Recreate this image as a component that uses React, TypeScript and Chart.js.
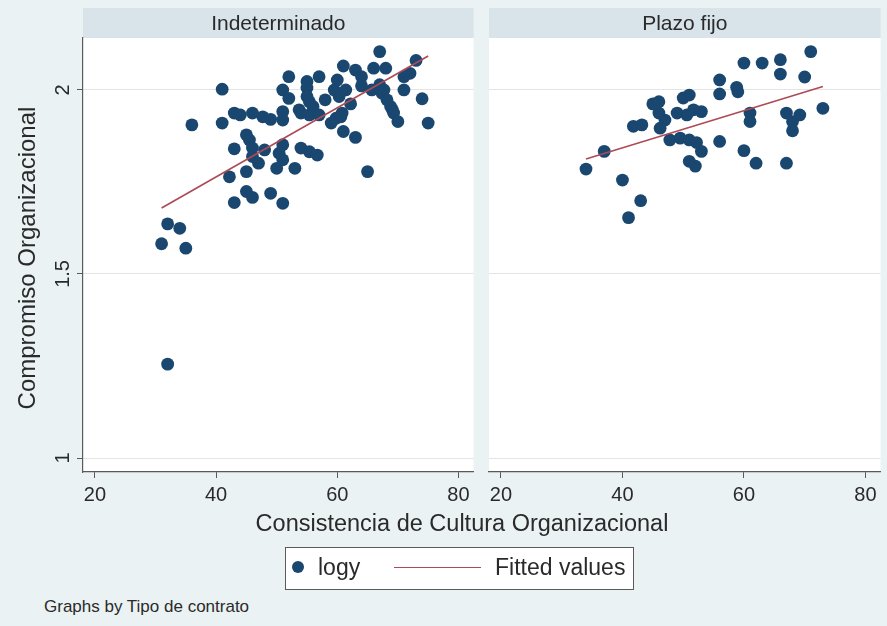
import React, { useEffect, useRef } from 'react';
import { Chart, registerables } from 'chart.js';

Chart.register(...registerables);

// ---------- data ----------
const PANEL_TITLES = ['Indeterminado', 'Plazo fijo'];

const indX = [67, 73, 61, 63, 66, 68, 64, 52, 57, 55, 60, 71, 72,
  41, 51, 55, 59.5, 61.4, 64, 67, 71, 65.7, 67.7,
  52, 58, 55, 60.3, 67.4, 74, 68.2, 62.2, 56, 68.8, 55.4, 53.7, 69.1,
  43, 44, 46, 47.7, 49, 51, 51, 54, 55.4, 57, 60.8, 59.8, 69.3, 60.6,
  59, 36, 41, 70, 75,
  61, 63, 45, 45.5, 46, 43, 48, 51, 50.4, 54, 55.4, 56.7, 46, 51, 47, 50, 53, 45, 42.2, 65,
  45, 46, 49, 43, 51,
  32, 34, 31, 35, 32];
const indY = [2.104, 2.080, 2.065, 2.054, 2.059, 2.059, 2.036, 2.036, 2.036, 2.023, 2.027, 2.036, 2.045,
  2.002, 2.0, 2.005, 2.0, 2.0, 2.011, 2.014, 2.0, 2.0, 2.0,
  1.977, 1.973, 1.982, 1.982, 1.991, 1.976, 1.973, 1.962, 1.955, 1.955, 1.968, 1.946, 1.946,
  1.937, 1.932, 1.937, 1.927, 1.920, 1.941, 1.918, 1.937, 1.932, 1.932, 1.937, 1.923, 1.937, 1.927,
  1.910, 1.905, 1.910, 1.914, 1.910,
  1.887, 1.871, 1.878, 1.864, 1.842, 1.840, 1.837, 1.851, 1.828, 1.842, 1.832, 1.823, 1.819, 1.810, 1.801, 1.787, 1.787, 1.778, 1.764, 1.778,
  1.724, 1.708, 1.719, 1.694, 1.692,
  1.636, 1.624, 1.582, 1.570, 1.255];

const fijoX = [71, 60, 63, 66, 66, 70, 56, 56, 58.8, 59, 73, 67, 69.2, 68, 68, 61, 61, 56, 60, 62, 67,
  45, 46, 46, 47, 46.2, 50, 51, 49, 50.6, 51.7, 53, 41.8, 43.2, 47.8, 49.5, 51, 52.2, 53, 51, 52, 37, 34, 40, 43, 41];
const fijoY = [2.104, 2.073, 2.073, 2.082, 2.043, 2.035, 2.027, 1.989, 2.007, 1.995, 1.950, 1.937, 1.932, 1.914, 1.889, 1.937, 1.914, 1.860, 1.835, 1.801, 1.801,
  1.962, 1.968, 1.937, 1.918, 1.896, 1.978, 1.986, 1.937, 1.932, 1.946, 1.941, 1.901, 1.905, 1.864, 1.869, 1.864, 1.857, 1.833, 1.806, 1.793, 1.833, 1.785, 1.755, 1.699, 1.653];

const indFitX = [31, 75];
const indFitY = [1.679, 2.092];
const fijoFitX = [34, 73];
const fijoFitY = [1.812, 2.009];

const X_TICKS = [20, 40, 60, 80];
const Y_TICKS = [1, 1.5, 2];
const Y_TICK_LABELS = ['1', '1.5', '2'];
const X_MIN = 18.03;
const X_MAX = 82.5;
const Y_MIN = 0.962;
const Y_MAX = 2.141;

const Y_TITLE = 'Compromiso Organizacional';
const X_TITLE = 'Consistencia de Cultura Organizacional';
const LEGEND_POINTS = 'logy';
const LEGEND_LINE = 'Fitted values';
const NOTE = 'Graphs by Tipo de contrato';

// ---------- styles ----------
const FONT = '"Liberation Sans", Arial, Helvetica, sans-serif';
const BG = '#eaf2f3';
const STRIP = '#d8e3ea';
const NAVY = '#1a476f';
const FIT = '#ad4a55';
const AXIS = '#5a5a5a';
const GRID = '#e4e4e4';
const TEXT = '#2a2a2a';
const CANVAS_H = 515;
const AREA_TOP = 38;
const AREA_BOTTOM = 472;
const STRIP_TOP = 8;

type PanelProps = {
  title: string;
  xs: number[];
  ys: number[];
  fx: number[];
  fy: number[];
  showY: boolean;
  left: number;
  width: number;
  yAxisWidth: number;
  padRight: number;
};

function Panel(p: PanelProps) {
  const ref = useRef<HTMLCanvasElement | null>(null);
  useEffect(() => {
    if (!ref.current) return;
    const plugin = {
      id: 'stataPanel',
      beforeDraw(chart: any) {
        const { ctx, chartArea: a } = chart;
        ctx.save();
        ctx.fillStyle = '#ffffff';
        ctx.fillRect(a.left, a.top, a.right - a.left, a.bottom - a.top);
        ctx.fillStyle = STRIP;
        ctx.fillRect(a.left, STRIP_TOP, a.right - a.left, a.top - STRIP_TOP);
        ctx.fillStyle = TEXT;
        ctx.font = `21px ${FONT}`;
        ctx.textAlign = 'center';
        ctx.textBaseline = 'middle';
        ctx.fillText(p.title, (a.left + a.right) / 2, (STRIP_TOP + a.top) / 2 + 1);
        ctx.restore();
      },
      afterDraw(chart: any) {
        if (!p.showY) return;
        const { ctx } = chart;
        const ys = chart.scales.y;
        ctx.save();
        ctx.fillStyle = TEXT;
        ctx.textAlign = 'center';
        ctx.textBaseline = 'middle';
        ctx.font = `20px ${FONT}`;
        Y_TICKS.forEach((v, i) => {
          ctx.save();
          ctx.translate(63, ys.getPixelForValue(v));
          ctx.rotate(-Math.PI / 2);
          ctx.fillText(Y_TICK_LABELS[i], 0, 0);
          ctx.restore();
        });
        ctx.font = `24px ${FONT}`;
        ctx.translate(28, 258);
        ctx.rotate(-Math.PI / 2);
        ctx.fillText(Y_TITLE, 0, 0);
        ctx.restore();
      },
    };
    const chart = new Chart(ref.current, {
      type: 'scatter',
      data: {
        datasets: [
          {
            type: 'line',
            label: LEGEND_LINE,
            data: p.fx.map((x, i) => ({ x, y: p.fy[i] })),
            borderColor: FIT,
            borderWidth: 1.6,
            pointRadius: 0,
            fill: false,
            tension: 0,
          } as any,
          {
            type: 'scatter',
            label: LEGEND_POINTS,
            data: p.xs.map((x, i) => ({ x, y: p.ys[i] })),
            backgroundColor: NAVY,
            borderWidth: 0,
            pointRadius: 6.4,
            pointHoverRadius: 6.4,
          },
        ],
      },
      options: {
        responsive: false,
        animation: false,
        events: [],
        layout: { padding: { top: AREA_TOP, right: p.padRight, left: 0, bottom: 0 } },
        plugins: {
          legend: { display: false },
          tooltip: { enabled: false },
          title: { display: false },
        },
        scales: {
          x: {
            type: 'linear',
            min: X_MIN,
            max: X_MAX,
            afterBuildTicks: (s: any) => {
              s.ticks = X_TICKS.map((v) => ({ value: v }));
            },
            afterFit: (s: any) => {
              s.height = CANVAS_H - AREA_BOTTOM;
              s.paddingLeft = 0;
              s.paddingRight = 0;
            },
            grid: { drawOnChartArea: false, drawTicks: true, tickLength: 6, tickColor: AXIS },
            border: { display: true, color: AXIS, width: 1.2 },
            ticks: {
              font: { family: FONT, size: 20 },
              color: TEXT,
              padding: 5,
              maxRotation: 0,
              autoSkip: false,
            },
          },
          y: {
            type: 'linear',
            min: Y_MIN,
            max: Y_MAX,
            afterBuildTicks: (s: any) => {
              s.ticks = Y_TICKS.map((v) => ({ value: v }));
            },
            afterFit: (s: any) => {
              s.width = p.yAxisWidth;
              s.paddingTop = 0;
              s.paddingBottom = 0;
            },
            grid: { color: GRID, lineWidth: 1, drawTicks: p.showY, tickLength: 6, tickColor: AXIS },
            border: { display: p.showY, color: AXIS, width: 1.2 },
            ticks: { display: false },
          },
        },
      } as any,
      plugins: [plugin],
    });
    return () => chart.destroy();
  }, []);
  return (
    <canvas
      ref={ref}
      width={p.width}
      height={CANVAS_H}
      style={{ position: 'absolute', left: p.left, top: 0, width: p.width, height: CANVAS_H, display: 'block' }}
    />
  );
}

export default function App() {
  return (
    <div
      style={{
        position: 'absolute',
        left: 0,
        top: 0,
        width: 887,
        height: 626,
        background: BG,
        overflow: 'hidden',
        fontFamily: FONT,
        color: TEXT,
      }}
    >
      <Panel title={PANEL_TITLES[0]} xs={indX} ys={indY} fx={indFitX} fy={indFitY}
        showY={true} left={0} width={480} yAxisWidth={83} padRight={5} />
      <Panel title={PANEL_TITLES[1]} xs={fijoX} ys={fijoY} fx={fijoFitX} fy={fijoFitY}
        showY={false} left={480} width={407} yAxisWidth={9} padRight={6} />
      <div style={{ position: 'absolute', left: 462, top: 509, transform: 'translateX(-50%)', fontSize: 23.5, lineHeight: '28px', whiteSpace: 'nowrap' }}>
        {X_TITLE}
      </div>
      <div style={{ position: 'absolute', left: 285, top: 547, width: 349, height: 43, boxSizing: 'border-box', border: `1.5px solid ${AXIS}`, background: '#ffffff' }}>
        <div style={{ position: 'absolute', left: 6, top: 13, width: 12, height: 12, borderRadius: '50%', background: NAVY }} />
        <div style={{ position: 'absolute', left: 32, top: 5, fontSize: 23, lineHeight: '28px', whiteSpace: 'nowrap' }}>{LEGEND_POINTS}</div>
        <div style={{ position: 'absolute', left: 108, top: 18.5, width: 87, height: 1.6, background: FIT }} />
        <div style={{ position: 'absolute', left: 209, top: 5, fontSize: 23, lineHeight: '28px', whiteSpace: 'nowrap' }}>{LEGEND_LINE}</div>
      </div>
      <div style={{ position: 'absolute', left: 44, top: 597, fontSize: 17, lineHeight: '20px', whiteSpace: 'nowrap' }}>
        {NOTE}
      </div>
    </div>
  );
}
